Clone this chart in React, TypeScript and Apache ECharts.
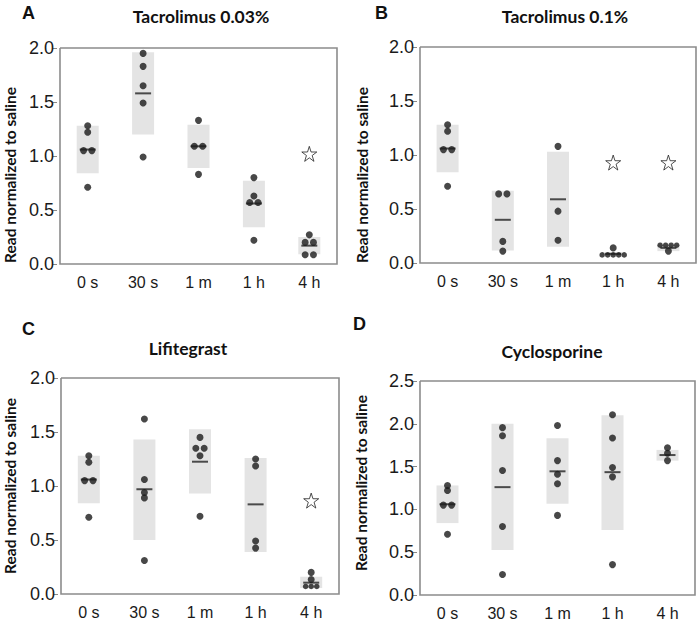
import React, { useEffect, useRef } from 'react';
import * as echarts from 'echarts';

// ---------- data ----------
const categories = ['0 s', '30 s', '1 m', '1 h', '4 h'];
const panelLetters = ['A', 'B', 'C', 'D'];
const panelTitles = ['Tacrolimus 0.03%', 'Tacrolimus 0.1%', 'Lifitegrast', 'Cyclosporine'];
const yAxisName = 'Read normalized to saline';
const yMaxes = [2, 2, 2, 2.5];

const control = [1.28, 1.22, 1.05, 1.05, 0.71];
const controlMean = 1.06;
const controlLow = 0.84;
const controlHigh = 1.28;

// Panel A – Tacrolimus 0.03%
const pointsA = [control, [1.95, 1.83, 1.65, 1.49, 0.99], [1.33, 1.09, 1.09, 0.83], [0.8, 0.63, 0.57, 0.57, 0.22], [0.27, 0.2, 0.2, 0.085, 0.085]];
const meanA = [controlMean, 1.58, 1.09, 0.56, 0.17];
const lowA = [controlLow, 1.2, 0.89, 0.34, 0.09];
const highA = [controlHigh, 1.96, 1.29, 0.77, 0.25];
const starA = [null, null, null, null, 1.02];

// Panel B – Tacrolimus 0.1%
const pointsB = [control, [0.64, 0.64, 0.2, 0.11], [1.08, 0.48, 0.21], [0.14, 0.075, 0.075, 0.075, 0.075, 0.075], [0.165, 0.165, 0.165, 0.165, 0.11]];
const meanB = [controlMean, 0.4, 0.59, 0.085, 0.14];
const lowB = [controlLow, 0.115, 0.15, 0.075, 0.11];
const highB = [controlHigh, 0.67, 1.03, 0.1, 0.17];
const starB = [null, null, null, 0.93, 0.93];

// Panel C – Lifitegrast
const pointsC = [control, [1.62, 1.06, 0.94, 0.89, 0.31], [1.45, 1.35, 1.35, 1.28, 0.72], [1.25, 1.185, 0.49, 0.425], [0.2, 0.135, 0.07, 0.07, 0.07]];
const meanC = [controlMean, 0.97, 1.225, 0.83, 0.105];
const lowC = [controlLow, 0.5, 0.93, 0.39, 0.055];
const highC = [controlHigh, 1.43, 1.525, 1.26, 0.16];
const starC = [null, null, null, null, 0.865];

// Panel D – Cyclosporine
const pointsD = [control, [1.955, 1.86, 1.455, 0.8, 0.24], [1.98, 1.57, 1.41, 1.3, 0.93], [2.105, 1.835, 1.49, 1.38, 0.355], [1.72, 1.655, 1.57]];
const meanD = [controlMean, 1.26, 1.445, 1.435, 1.635];
const lowD = [controlLow, 0.525, 1.065, 0.76, 1.57];
const highD = [controlHigh, 2.0, 1.83, 2.1, 1.695];
const starD = [null, null, null, null, null];

const panels = [
  { points: pointsA, mean: meanA, low: lowA, high: highA, star: starA },
  { points: pointsB, mean: meanB, low: lowB, high: highB, star: starB },
  { points: pointsC, mean: meanC, low: lowC, high: highC, star: starC },
  { points: pointsD, mean: meanD, low: lowD, high: highD, star: starD },
];

// ---------- layout ----------
const grids = [
  { left: 60, top: 48, width: 277, height: 216 },
  { left: 420, top: 47, width: 276, height: 216 },
  { left: 61, top: 378, width: 278, height: 216 },
  { left: 420, top: 381, width: 275, height: 214 },
];
const letterPos = [[22, 13], [375, 13], [22, 329], [353, 324]];
const titlePos = [[201, 16], [565, 16], [188, 348], [552, 351]];
const yNamePos = [[10, 175], [362, 175], [10, 486], [361, 483]];

const SANS = 'Liberation Sans';
const FRAME = '#8c8c8c';
const STAR = 'path://M50,4 L61,38 L97,38 L68,59 L79,94 L50,73 L21,94 L32,59 L3,38 L39,38 Z';

function swarm(points: number[][]) {
  const out: any[] = [];
  points.forEach((vals, ci) => {
    const counts: Record<string, number> = {};
    vals.forEach((v) => { counts[String(v)] = (counts[String(v)] || 0) + 1; });
    const seen: Record<string, number> = {};
    vals.forEach((v) => {
      const k = String(v);
      const n = counts[k];
      const i = seen[k] || 0;
      seen[k] = i + 1;
      const spacing = n === 2 ? 0.15 : 0.1;
      const off = (i - (n - 1) / 2) * spacing;
      out.push({ value: [ci + off, v], symbolSize: n >= 3 ? 5.5 : 7 });
    });
  });
  return out;
}

export default function App() {
  const ref = useRef<HTMLDivElement>(null);
  useEffect(() => {
    document.body.style.margin = '0';
    if (!ref.current) return;
    const chart = echarts.init(ref.current, null, { renderer: 'svg' });

    const xAxis: any[] = [];
    const yAxis: any[] = [];
    const series: any[] = [];
    const graphic: any[] = [];

    panels.forEach((p, pi) => {
      xAxis.push({
        type: 'category', gridIndex: pi, data: categories, boundaryGap: true,
        axisLine: { show: false, onZero: false }, axisTick: { show: false },
        axisLabel: { color: '#1a1a1a', fontSize: 16, fontFamily: SANS, margin: 10 },
      });
      xAxis.push({ type: 'value', gridIndex: pi, min: -0.5, max: 4.5, show: false, axisLine: { onZero: false } });
      yAxis.push({
        type: 'value', gridIndex: pi, min: 0, max: yMaxes[pi], interval: 0.5, offset: 3,
        axisLine: { show: false, onZero: false },
        axisTick: { show: true, length: 4, lineStyle: { color: '#888' } },
        splitLine: { show: false },
        axisLabel: { color: '#1a1a1a', fontSize: 18, fontFamily: SANS, margin: 3, formatter: (v: number) => v.toFixed(1) },
      });
      const g = grids[pi];
      const x0 = g.left, y0 = g.top, x1 = g.left + g.width, y1 = g.top + g.height;
      graphic.push({
        type: 'polyline', z: 100,
        shape: { points: [[x0, y0], [x1, y0], [x1, y1], [x0, y1], [x0, y0]] },
        style: { stroke: FRAME, lineWidth: 1.6, fill: null },
      });
      const boxData = categories.map((_, ci) => [ci, p.low[ci], p.high[ci], p.mean[ci]]);
      series.push({
        type: 'custom', xAxisIndex: pi * 2 + 1, yAxisIndex: pi, z: 1, data: boxData,
        renderItem: (params: any, api: any) => {
          const x = api.value(0);
          const top = api.coord([x, api.value(2)]);
          const bot = api.coord([x, api.value(1)]);
          const mid = api.coord([x, api.value(3)]);
          const bw = 22, mw = 16;
          return {
            type: 'group',
            children: [
              { type: 'rect', shape: { x: top[0] - bw / 2, y: top[1], width: bw, height: bot[1] - top[1] }, style: { fill: '#e4e4e4' } },
              { type: 'line', shape: { x1: mid[0] - mw / 2, y1: mid[1], x2: mid[0] + mw / 2, y2: mid[1] }, style: { stroke: '#4a4a4a', lineWidth: 2 } },
            ],
          };
        },
      });
      series.push({
        type: 'scatter', xAxisIndex: pi * 2 + 1, yAxisIndex: pi, z: 3,
        data: swarm(p.points), symbol: 'circle',
        itemStyle: { color: '#1a1a1a' },
      });
      const starData = p.star.map((v, ci) => (v == null ? null : [ci, v])).filter((d) => d != null);
      if (starData.length) {
        series.push({
          type: 'scatter', xAxisIndex: pi * 2 + 1, yAxisIndex: pi, z: 3,
          data: starData, symbol: STAR, symbolSize: 15,
          itemStyle: { color: '#fff', borderColor: '#222', borderWidth: 1 },
        });
      }
      graphic.push({
        type: 'text', x: letterPos[pi][0], y: letterPos[pi][1],
        style: { text: panelLetters[pi], fill: '#111', font: 'bold 18px "Liberation Sans"', verticalAlign: 'middle', align: 'left' },
      });
      graphic.push({
        type: 'text', x: titlePos[pi][0], y: titlePos[pi][1],
        style: { text: panelTitles[pi], fill: '#111', font: 'bold 17.5px Lato', verticalAlign: 'middle', align: 'center' },
      });
      graphic.push({
        type: 'text', x: yNamePos[pi][0], y: yNamePos[pi][1], rotation: Math.PI / 2,
        style: { text: yAxisName, fill: '#111', font: 'bold 15.5px Lato', verticalAlign: 'middle', align: 'center' },
      });
    });

    chart.setOption({
      animation: false,
      backgroundColor: '#fff',
      grid: grids.map((g) => ({ ...g })),
      xAxis, yAxis, series, graphic,
    });
    return () => chart.dispose();
  }, []);
  return <div ref={ref} style={{ width: 700, height: 625 }} />;
}
